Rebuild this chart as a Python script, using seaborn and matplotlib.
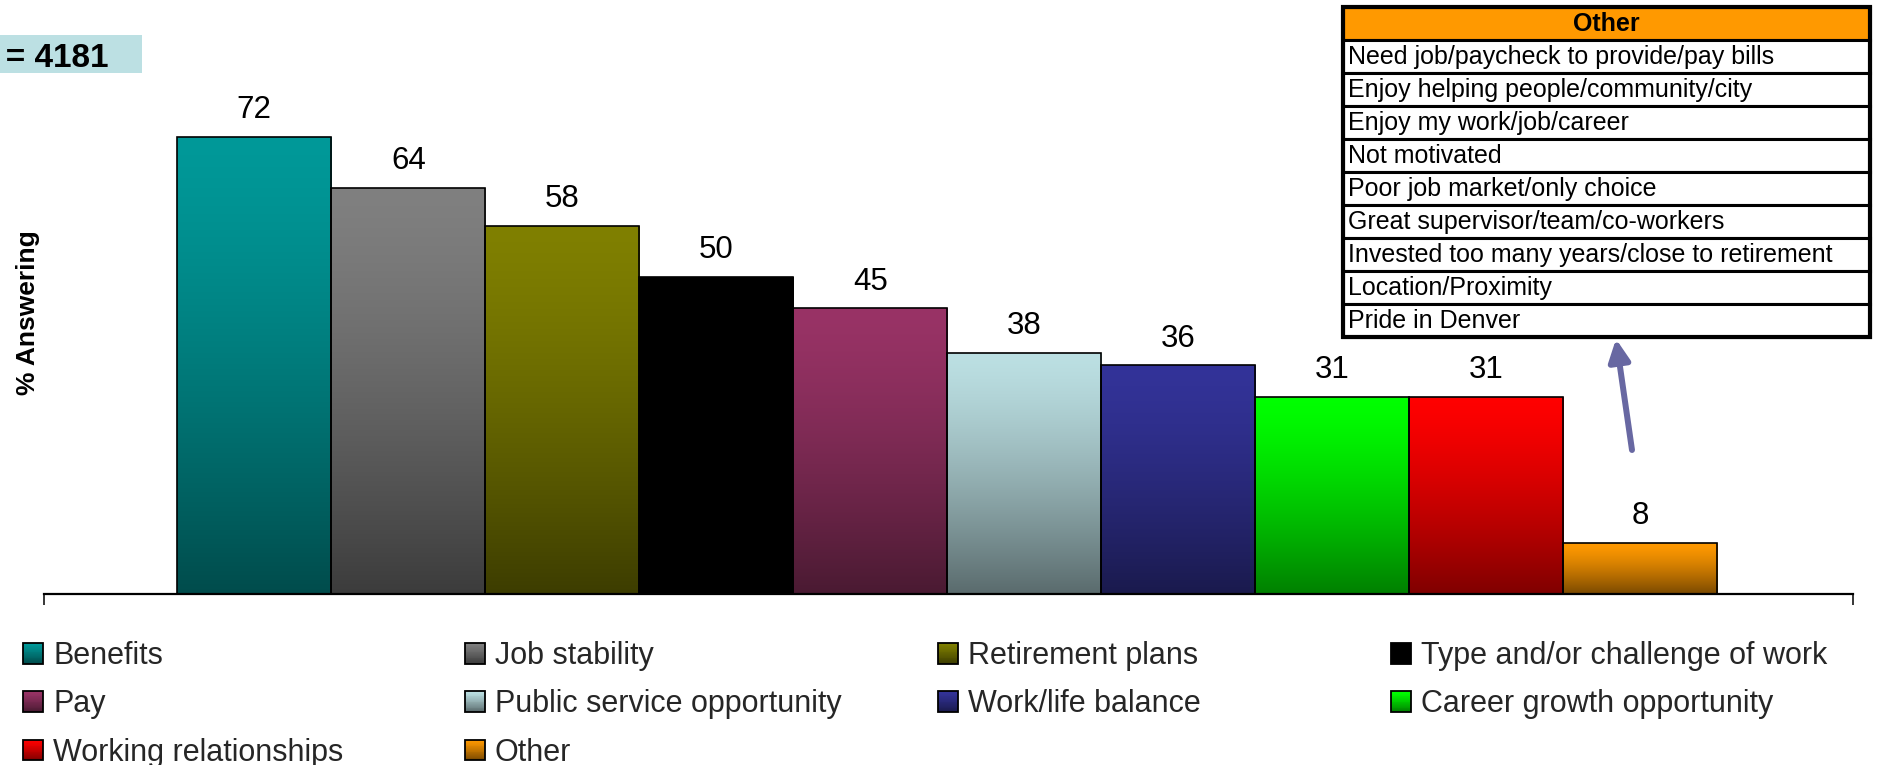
import numpy as np
import pandas as pd
import matplotlib
matplotlib.use("Agg")
import matplotlib.pyplot as plt
import seaborn as sns
from matplotlib.patches import Rectangle
from matplotlib.legend_handler import HandlerBase
from matplotlib.colors import to_rgb

# ---- data -------------------------------------------------------------
categories = ["Benefits", "Job stability", "Retirement plans",
              "Type and/or challenge of work", "Pay",
              "Public service opportunity", "Work/life balance",
              "Career growth opportunity", "Working relationships", "Other"]
values = [72, 64, 58, 50, 45, 38, 36, 31, 31, 8]

top_colors = ["#009999", "#808080", "#808000", "#000000", "#993366",
              "#BCE0E3", "#333399", "#00FF00", "#FF0000", "#FF9900"]
bottom_colors = ["#004C4C", "#3C3C3C", "#3D3D00", "#000000", "#4A1A32",
                 "#5A6B6D", "#1A1A4D", "#008000", "#800000", "#7A4900"]

other_header = "Other"
other_items = ["Need job/paycheck to provide/pay bills",
               "Enjoy helping people/community/city",
               "Enjoy my work/job/career",
               "Not motivated",
               "Poor job market/only choice",
               "Great supervisor/team/co-workers",
               "Invested too many years/close to retirement",
               "Location/Proximity",
               "Pride in Denver"]

sample_label = "n = 4181"
y_label = "% Answering"

# ---- figure -----------------------------------------------------------
W, H, DPI = 1877, 765, 100
sns.set_theme(style="white")
plt.rcParams["font.family"] = ["Liberation Sans", "DejaVu Sans"]

fig = plt.figure(figsize=(W / DPI, H / DPI), dpi=DPI)
fig.patch.set_facecolor("white")


def px(x0, y0, x1, y1):
    """pixel box (top-left origin) -> figure fraction rect"""
    return [x0 / W, 1 - y1 / H, (x1 - x0) / W, (y1 - y0) / H]


ax = fig.add_axes(px(44, 86, 1853, 594))

df = pd.DataFrame({"category": categories, "value": values})
sns.barplot(data=df, x="category", y="value", hue="category",
            order=categories, hue_order=categories,
            palette=dict(zip(categories, top_colors)),
            dodge=False, width=1.0, legend=False,
            edgecolor="black", linewidth=1.2, ax=ax)

XLIM = (-1.365, 10.38)
YLIM = (0, 80)


def ramp(c_top, c_bot, n=256, gamma=1.35):
    t = np.linspace(0, 1, n) ** gamma
    a, b = np.array(to_rgb(c_top)), np.array(to_rgb(c_bot))
    return a[None, :] * (1 - t[:, None]) + b[None, :] * t[:, None]


# vertical gradient inside every bar
for patch in list(ax.patches):
    idx = int(round(patch.get_x() + patch.get_width() / 2))
    x0 = patch.get_x()
    x1 = x0 + patch.get_width()
    h = patch.get_height()
    img = ramp(top_colors[idx], bottom_colors[idx])[:, None, :]
    im = ax.imshow(img, extent=(x0, x1, 0, h), origin="upper",
                   aspect="auto", interpolation="bilinear", zorder=1)
    im.set_clip_path(patch)
    patch.set_facecolor("none")
    patch.set_zorder(2)

# value labels
for i, v in enumerate(values):
    ax.annotate(f"{v}", (i, v), xytext=(0, 13.5), textcoords="offset points",
                ha="center", va="baseline", fontsize=22.5, color="black")

ax.set_xlim(*XLIM)
ax.set_ylim(*YLIM)
ax.set_xlabel("")
ax.set_ylabel("")
ax.set_yticks([])
ax.set_xticks(list(XLIM))
ax.set_xticklabels([])
ax.tick_params(axis="x", direction="out", length=8, width=1.1,
               color="black", bottom=True)
for s in ("left", "top", "right"):
    ax.spines[s].set_visible(False)
ax.spines["bottom"].set_color("black")
ax.spines["bottom"].set_linewidth(1.6)
ax.patch.set_alpha(0)

# axis title
fig.text(28 / W, 1 - 313 / H, y_label, rotation=90, ha="center",
         va="center", fontsize=19, fontweight="bold", color="black")

# sample size badge (sits against the left edge of the canvas)
fig.patches.append(Rectangle((0, 1 - 73 / H), 142 / W, 38 / H,
                             transform=fig.transFigure, facecolor="#BCE0E3",
                             edgecolor="none", zorder=0))
fig.text(108 / W, 1 - 67 / H, sample_label, ha="right", va="baseline",
         fontsize=24, fontweight="bold", color="black")


# ---- legend with gradient keys ---------------------------------------
class GradientKey:
    def __init__(self, c_top, c_bot):
        self.colors = (c_top, c_bot)


class GradientHandler(HandlerBase):
    def create_artists(self, legend, orig_handle, xdescent, ydescent,
                       width, height, fontsize, trans):
        cols = ramp(*orig_handle.colors, n=24, gamma=1.2)
        n = len(cols)
        arts = []
        for k, c in enumerate(cols):
            arts.append(Rectangle((-xdescent, -ydescent + height * (1 - (k + 1) / n)),
                                  width, height / n + 0.02, facecolor=c,
                                  edgecolor="none", transform=trans))
        arts.append(Rectangle((-xdescent, -ydescent), width, height,
                              facecolor="none", edgecolor="black",
                              linewidth=1.3, transform=trans))
        return arts


legend_cols = [[0, 4, 8], [1, 5, 9], [2, 6], [3, 7]]
col_x = [23, 465, 938, 1391]
fs = 22
fs_px = fs * DPI / 72
for xs, idxs in zip(col_x, legend_cols):
    hs = [GradientKey(top_colors[i], bottom_colors[i]) for i in idxs]
    ls = [categories[i] for i in idxs]
    fig.legend(hs, ls, handler_map={GradientKey: GradientHandler()},
               loc="upper left", bbox_to_anchor=(xs / W, 1 - 641 / H),
               bbox_transform=fig.transFigure, frameon=False,
               fontsize=fs, borderpad=0, borderaxespad=0,
               handlelength=20 / fs_px, handleheight=20 / fs_px,
               handletextpad=10 / fs_px, labelspacing=0.6)

# ---- "Other" breakdown box --------------------------------------------
tab = fig.add_axes(px(1343, 7, 1870, 337))
tab.set_xlim(0, 1)
tab.set_ylim(len(other_items) + 1, 0)
tab.axis("off")
rows = [other_header] + other_items
for r, label in enumerate(rows):
    face = "#FF9900" if r == 0 else "white"
    tab.add_patch(Rectangle((0, r), 1, 1, facecolor=face, edgecolor="black",
                            linewidth=2.2, clip_on=False, zorder=1))
    if r == 0:
        tab.text(0.5, r + 0.52, label, ha="center", va="center",
                 fontsize=18, fontweight="bold", color="black", zorder=3)
    else:
        tab.text(0.009, r + 0.52, label, ha="left", va="center",
                 fontsize=18, color="black", zorder=3)
tab.add_patch(Rectangle((0, 0), 1, len(rows), facecolor="none",
                        edgecolor="black", linewidth=3.0, clip_on=False,
                        zorder=2))

# pointer from the "Other" bar up to the box
ax.annotate("", xy=(1616, H - 339), xytext=(1632, H - 450),
            xycoords="figure pixels", textcoords="figure pixels",
            arrowprops=dict(arrowstyle="-|>,head_length=0.65,head_width=0.32",
                            mutation_scale=20, color="#6868A2", lw=4.3,
                            shrinkA=0, shrinkB=0), annotation_clip=False)

fig.savefig("out.png", dpi=DPI, facecolor="white")
